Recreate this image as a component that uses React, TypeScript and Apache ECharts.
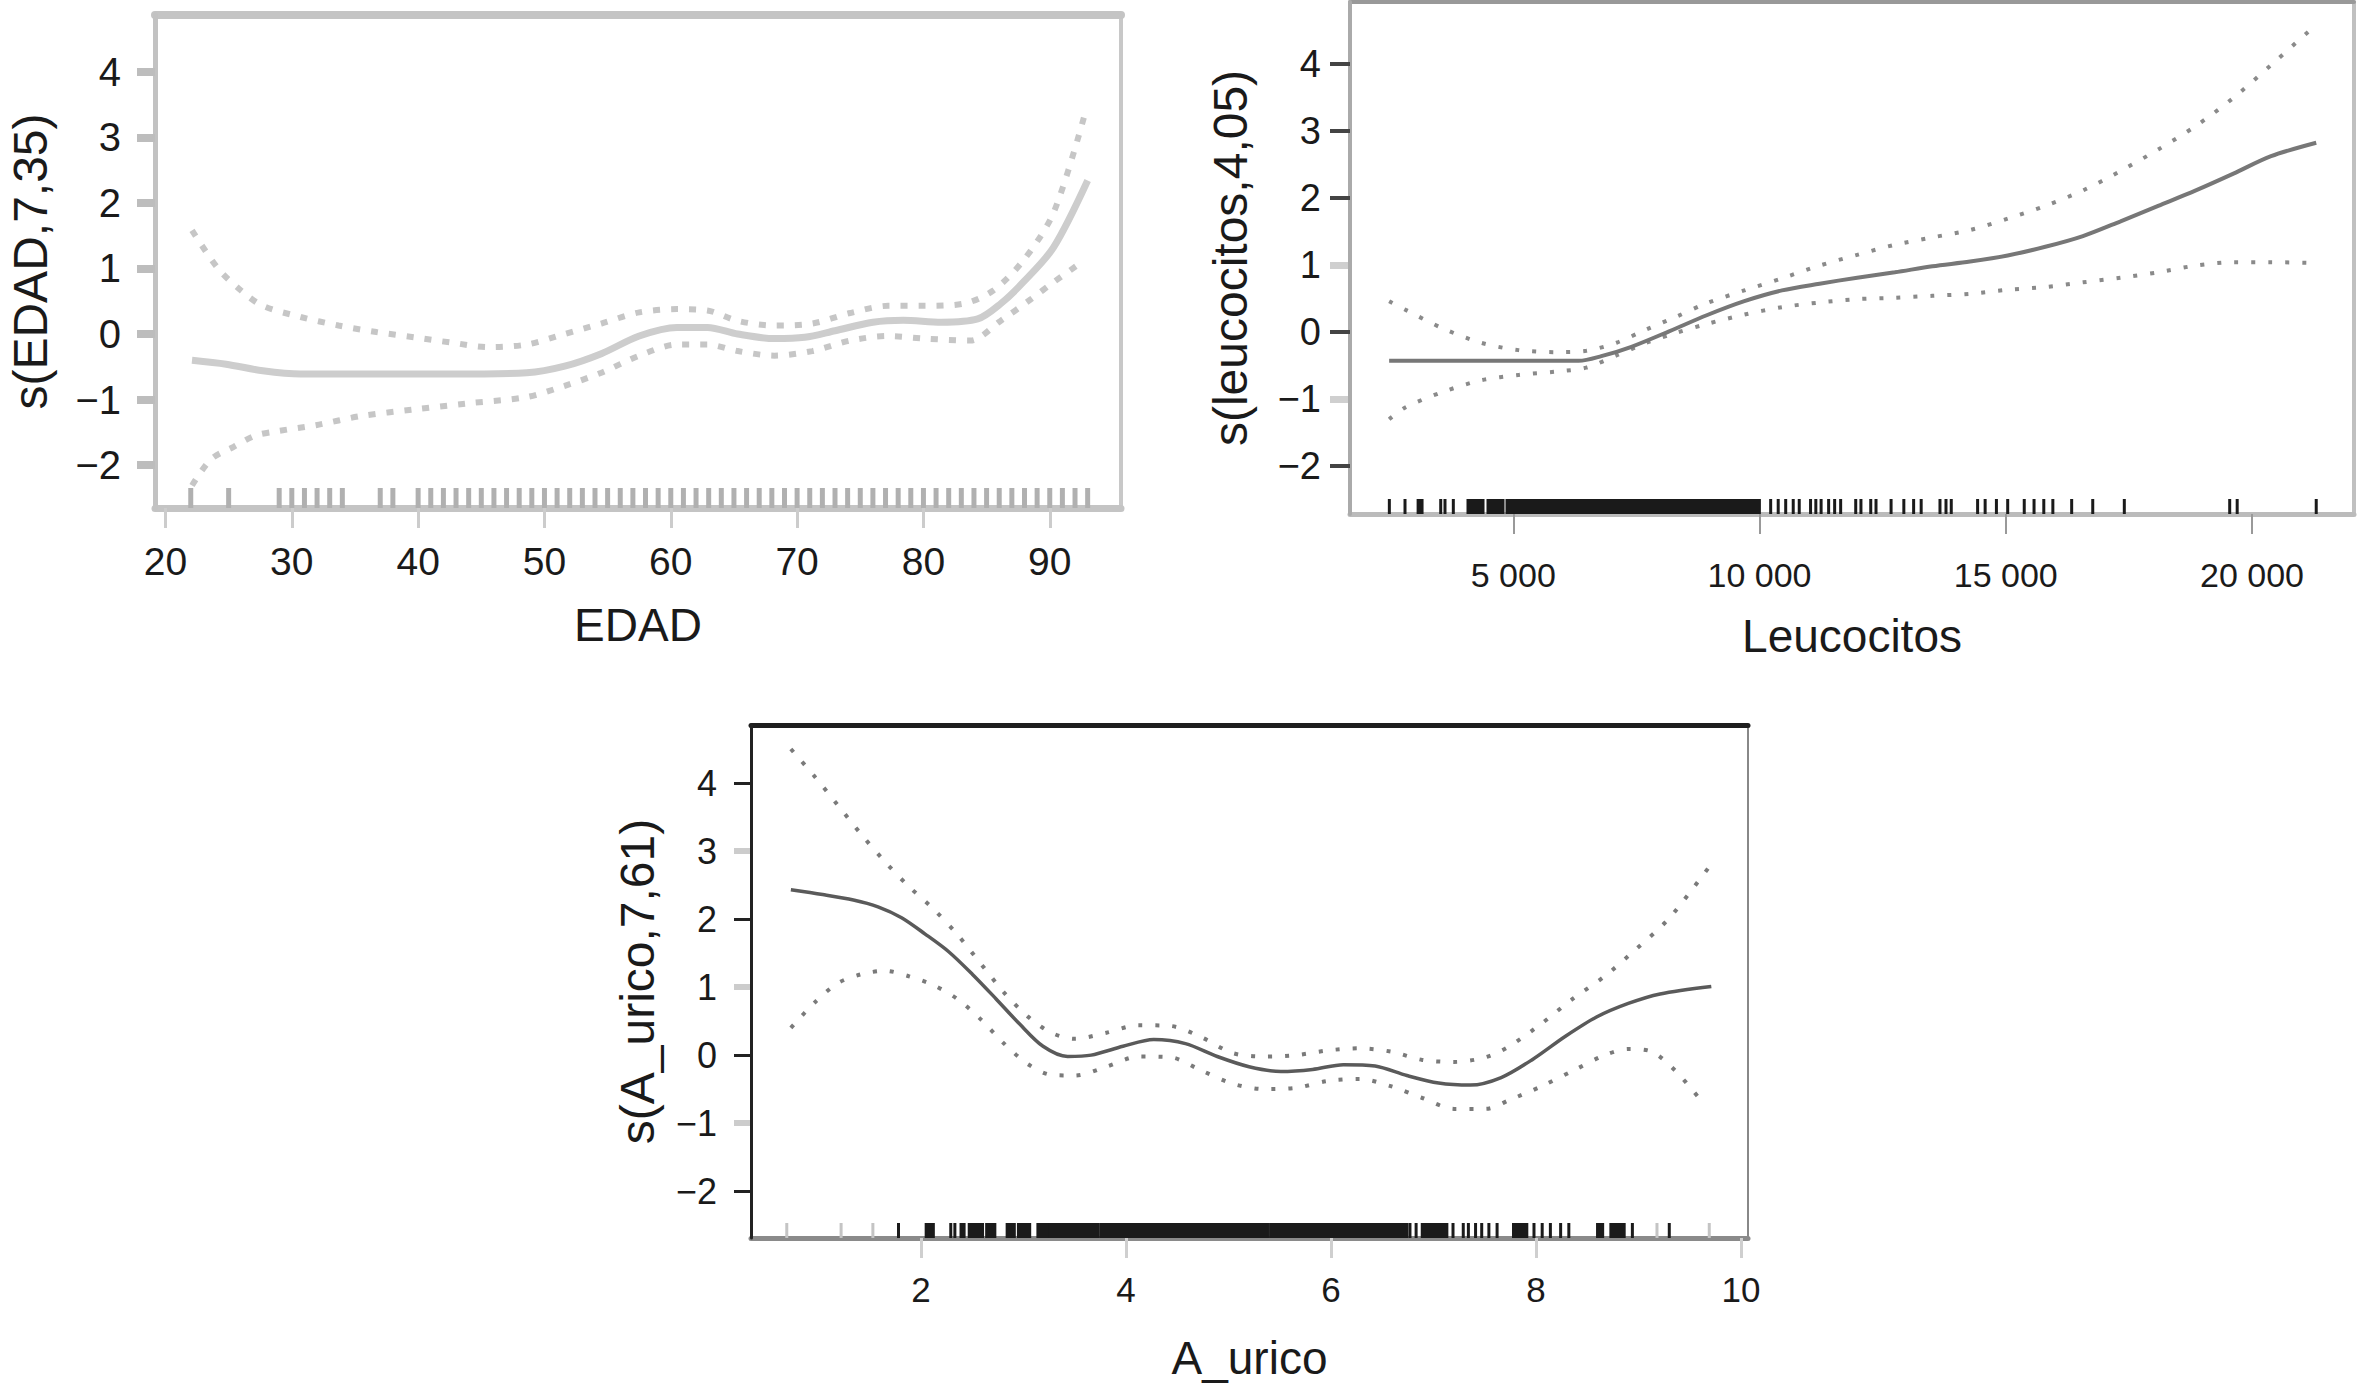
import React, { useEffect, useRef } from "react";
import * as echarts from "echarts";

const W = 2358;
const H = 1385;
const FONT = "'Liberation Sans', Arial, Helvetica, sans-serif";

// ---- tick values ----
const yTicks = [-2, -1, 0, 1, 2, 3, 4];
const yTicksEven = [-2, 0, 2, 4];
const yTicksOdd = [-1, 1, 3];
const leucoDarkTicks = [-2, 0, 2, 3, 4];
const leucoLightTicks = [-1, 1];
const edadTicks = [20, 30, 40, 50, 60, 70, 80, 90];
const leucoTicks = [5000, 10000, 15000, 20000];
const uricoTicks = [2, 4, 6, 8, 10];

// ---- EDAD panel ----
const edadFit = [
  [22.1, -0.4], [24.8, -0.46], [27.7, -0.56], [30.7, -0.61], [36.7, -0.61], [42.6, -0.61],
  [48.6, -0.59], [51.6, -0.49], [54.5, -0.3], [57.5, -0.03], [60.5, 0.1], [62.9, 0.1],
  [65.3, 0.0], [68.2, -0.07], [70.6, -0.05], [73.0, 0.05], [76.0, 0.18], [78.4, 0.21],
  [81.4, 0.18], [84.3, 0.23], [86.1, 0.46], [87.9, 0.79], [90.3, 1.32], [93.0, 2.34],
];
const edadUpper = [
  [22.1, 1.58], [24.2, 0.99], [26.0, 0.66], [27.7, 0.43], [30.7, 0.26], [33.7, 0.13],
  [36.7, 0.03], [39.7, -0.05], [42.6, -0.13], [45.6, -0.2], [48.6, -0.16], [51.6, 0.0],
  [54.5, 0.16], [57.5, 0.33], [60.5, 0.38], [62.9, 0.36], [65.3, 0.2], [68.2, 0.13],
  [71.2, 0.16], [74.2, 0.32], [77.2, 0.43], [80.1, 0.43], [83.1, 0.46], [85.5, 0.66],
  [87.9, 1.12], [90.3, 1.85], [92.7, 3.3],
];
const edadLower = [
  [22.1, -2.31], [23.6, -1.91], [25.4, -1.72], [27.1, -1.55], [28.9, -1.48], [31.9, -1.39],
  [35.5, -1.25], [39.7, -1.15], [43.8, -1.06], [48.6, -0.96], [51.6, -0.79], [54.5, -0.59],
  [57.5, -0.33], [60.5, -0.16], [62.9, -0.16], [65.3, -0.26], [68.2, -0.33], [71.2, -0.26],
  [74.2, -0.1], [77.2, -0.03], [80.1, -0.07], [83.7, -0.1], [86.1, 0.2], [88.5, 0.53],
  [90.3, 0.79], [92.7, 1.12],
];
const edadRug = [
  22, 25, 29, 30, 31, 32, 33, 34, 37, 38, 40, 41, 42, 43, 44, 45, 46, 47, 48, 49, 50, 51, 52,
  53, 54, 55, 56, 57, 58, 59, 60, 61, 62, 63, 64, 65, 66, 67, 68, 69, 70, 71, 72, 73, 74, 75,
  76, 77, 78, 79, 80, 81, 82, 83, 84, 85, 86, 87, 88, 89, 90, 91, 92, 93,
];

// ---- Leucocitos panel ----
const leucoFit = [
  [2479, -0.43], [6329, -0.43], [6788, -0.36], [7399, -0.22], [8163, 0.01], [8927, 0.25],
  [9691, 0.46], [10455, 0.62], [11219, 0.72], [11983, 0.81], [12747, 0.89], [13511, 0.98],
  [14275, 1.05], [15039, 1.14], [15803, 1.27], [16567, 1.43], [17331, 1.65], [18095, 1.88],
  [18859, 2.11], [19623, 2.36], [20387, 2.62], [21304, 2.82],
];
const leucoUpper = [
  [2479, 0.46], [2815, 0.33], [3579, 0.05], [4343, -0.16], [5107, -0.27], [5871, -0.3],
  [6482, -0.28], [7093, -0.16], [7705, 0.04], [8316, 0.23], [8927, 0.43], [9691, 0.62],
  [10455, 0.8], [11219, 0.99], [11983, 1.15], [12747, 1.3], [13511, 1.41], [14275, 1.52],
  [15039, 1.69], [15803, 1.88], [16567, 2.11], [17331, 2.4], [18095, 2.72], [18859, 3.07],
  [19623, 3.49], [20387, 3.98], [21227, 4.53],
];
const leucoLower = [
  [2479, -1.3], [2815, -1.12], [3579, -0.89], [4343, -0.72], [5107, -0.64], [5871, -0.59],
  [6482, -0.53], [7093, -0.35], [7705, -0.16], [8316, -0.01], [8927, 0.12], [9691, 0.26],
  [10455, 0.37], [11219, 0.44], [11983, 0.49], [12747, 0.51], [13511, 0.54], [14275, 0.57],
  [15039, 0.63], [15803, 0.67], [16567, 0.74], [17331, 0.81], [18095, 0.89], [18859, 0.99],
  [19623, 1.04], [20387, 1.04], [21304, 1.03],
];
const leucoRugTicks = [
  2483, 2801, 3526, 3613, 3782, 10226, 10379, 10531, 10684, 10806, 11036, 11143, 11250, 11403,
  11525, 11647, 11953, 12059, 12258, 12365, 12671, 12930, 13129, 13282, 13664, 13786, 13893,
  14428, 14581, 14810, 15039, 15375, 15574, 15772, 15956, 16338, 16766, 17407, 19547, 19699,
  21304,
];
const leucoRugBlocks = [
  [3067, 3147], [4080, 4385], [4486, 4791], [4872, 9997],
];

// ---- A_urico panel ----
const uricoFit = [
  [0.73, 2.43], [1.04, 2.36], [1.34, 2.28], [1.58, 2.18], [1.81, 2.02], [2.04, 1.78],
  [2.27, 1.52], [2.5, 1.19], [2.73, 0.83], [2.96, 0.46], [3.19, 0.13], [3.43, -0.02],
  [3.66, 0.0], [3.97, 0.13], [4.27, 0.23], [4.58, 0.17], [4.89, -0.02], [5.2, -0.17],
  [5.51, -0.24], [5.82, -0.21], [6.12, -0.14], [6.43, -0.16], [6.74, -0.3], [7.05, -0.41],
  [7.36, -0.44], [7.66, -0.33], [7.97, -0.06], [8.28, 0.27], [8.59, 0.56], [8.9, 0.76],
  [9.21, 0.9], [9.71, 1.01],
];
const uricoUpper = [
  [0.73, 4.5], [0.96, 4.1], [1.19, 3.67], [1.42, 3.24], [1.65, 2.84], [1.88, 2.48],
  [2.12, 2.15], [2.35, 1.78], [2.58, 1.35], [2.81, 0.92], [3.04, 0.57], [3.27, 0.33],
  [3.5, 0.24], [3.81, 0.33], [4.12, 0.44], [4.43, 0.43], [4.74, 0.26], [5.04, 0.03],
  [5.35, -0.02], [5.66, 0.0], [5.97, 0.07], [6.28, 0.1], [6.59, 0.05], [6.89, -0.07],
  [7.2, -0.1], [7.51, -0.03], [7.74, 0.13], [8.05, 0.46], [8.36, 0.83], [8.67, 1.16],
  [8.97, 1.55], [9.28, 1.98], [9.51, 2.41], [9.71, 2.81],
];
const uricoLower = [
  [0.73, 0.4], [0.96, 0.77], [1.19, 1.06], [1.42, 1.19], [1.65, 1.24], [1.88, 1.16],
  [2.12, 1.03], [2.35, 0.83], [2.58, 0.53], [2.81, 0.17], [3.04, -0.13], [3.27, -0.29],
  [3.5, -0.3], [3.81, -0.17], [4.12, -0.02], [4.43, -0.03], [4.74, -0.23], [5.04, -0.42],
  [5.35, -0.5], [5.66, -0.48], [5.97, -0.38], [6.28, -0.35], [6.59, -0.46], [6.89, -0.63],
  [7.2, -0.79], [7.51, -0.79], [7.74, -0.66], [8.05, -0.46], [8.36, -0.23], [8.67, 0.0],
  [8.9, 0.09], [9.13, 0.05], [9.36, -0.23], [9.59, -0.63],
];
const uricoRugLight = [0.69, 1.22, 1.53, 9.18, 9.69];
const uricoRugTicks = [
  1.78, 2.29, 2.33, 6.77, 6.83, 7.19, 7.29, 7.34, 7.41, 7.47, 7.54, 7.62, 7.98, 8.06, 8.14,
  8.24, 8.32, 8.94, 9.3,
];
const uricoRugBlocks = [
  [2.05, 2.12], [2.39, 2.42], [2.47, 2.6], [2.64, 2.72], [2.84, 2.91], [2.95, 3.06],
  [3.14, 3.24], [3.26, 3.73], [3.76, 5.38], [5.41, 6.74], [6.89, 7.13], [7.78, 7.91],
  [8.6, 8.65], [8.73, 8.86],
];

const minusFmt = (v: number) => String(v).replace("-", "\u2212");
const thousandsFmt = (v: number) => String(v).replace(/\B(?=(\d{3})+(?!\d))/g, " ");

type TickStyle = { values: number[]; color: string; width: number; length: number };
type PanelCfg = {
  grid: { left: number; top: number; width: number; height: number };
  xMin: number; xMax: number; yMin: number; yMax: number;
  xTicks: number[]; xFmt: (v: number) => string;
  xName: string; yName: string;
  xLabelSize: number; yLabelSize: number; xLabelMargin: number; yLabelMargin: number;
  xNameGap: number; yNameGap: number;
  frame: { left: [string, number]; right: [string, number]; top: [string, number]; bottom: [string, number] };
  yTick: TickStyle;
  yTick2: TickStyle | null;
  xTick: { color: string; width: number; length: number };
  fit: number[][]; upper: number[][]; lower: number[][];
  fitStyle: { color: string; width: number };
  bandStyle: { color: string; width: number; dash: number[] };
  rugs: { data: number[][]; color: string; width: number; height: number }[];
};

function buildPanel(idx: number, c: PanelCfg) {
  const xi = idx * 2;
  const yi = idx * 3;
  const textColor = "#1a1a1a";
  const xAxes = [
    {
      type: "value", gridIndex: idx, position: "bottom", min: c.xMin, max: c.xMax,
      splitLine: { show: false },
      axisLine: { show: true, onZero: false, lineStyle: { color: c.frame.bottom[0], width: c.frame.bottom[1] } },
      axisTick: { show: true, customValues: c.xTicks, length: c.xTick.length, lineStyle: { color: c.xTick.color, width: c.xTick.width } },
      axisLabel: { show: true, customValues: c.xTicks, formatter: c.xFmt, fontSize: c.xLabelSize, fontFamily: FONT, color: textColor, margin: c.xLabelMargin },
      name: c.xName, nameLocation: "middle", nameGap: c.xNameGap,
      nameTextStyle: { fontSize: 46, fontFamily: FONT, color: textColor },
    },
    {
      type: "value", gridIndex: idx, position: "top", min: c.xMin, max: c.xMax,
      splitLine: { show: false },
      axisLine: { show: true, onZero: false, lineStyle: { color: c.frame.top[0], width: c.frame.top[1] } },
      axisTick: { show: false }, axisLabel: { show: false },
    },
  ];
  const yAxes = [
    {
      type: "value", gridIndex: idx, position: "left", min: c.yMin, max: c.yMax,
      splitLine: { show: false },
      axisLine: { show: true, onZero: false, lineStyle: { color: c.frame.left[0], width: c.frame.left[1] } },
      axisTick: { show: true, customValues: c.yTick.values, length: c.yTick.length, lineStyle: { color: c.yTick.color, width: c.yTick.width } },
      axisLabel: { show: true, customValues: yTicks, formatter: minusFmt, fontSize: c.yLabelSize, fontFamily: FONT, color: textColor, margin: c.yLabelMargin },
      name: c.yName, nameLocation: "middle", nameGap: c.yNameGap, nameRotate: 90,
      nameTextStyle: { fontSize: 48, fontFamily: FONT, color: textColor },
      z: 3,
    },
    {
      type: "value", gridIndex: idx, position: "right", min: c.yMin, max: c.yMax,
      splitLine: { show: false },
      axisLine: { show: true, onZero: false, lineStyle: { color: c.frame.right[0], width: c.frame.right[1] } },
      axisTick: { show: false }, axisLabel: { show: false },
    },
    {
      type: "value", gridIndex: idx, position: "left", offset: 0, min: c.yMin, max: c.yMax,
      splitLine: { show: false },
      axisLine: { show: false, onZero: false },
      axisTick: c.yTick2
        ? { show: true, customValues: c.yTick2.values, length: c.yTick2.length, lineStyle: { color: c.yTick2.color, width: c.yTick2.width } }
        : { show: false },
      axisLabel: { show: false },
      z: 1,
    },
  ];
  const series: any[] = [];
  c.rugs.forEach((r) => {
    series.push({
      type: "custom", xAxisIndex: xi, yAxisIndex: yi, silent: true,
      encode: { x: [0, 1] },
      data: r.data,
      renderItem: (params: any, api: any) => {
        const cs = params.coordSys;
        const bottom = cs.y + cs.height;
        const a = api.coord([api.value(0), 0])[0];
        const b = api.coord([api.value(1), 0])[0];
        return {
          type: "rect",
          shape: { x: a - r.width / 2, y: bottom - r.height, width: Math.max(b - a, 0) + r.width, height: r.height },
          style: { fill: r.color },
        };
      },
      z: 3,
    });
  });
  const band = (d: number[][]) => ({
    type: "line", xAxisIndex: xi, yAxisIndex: yi, data: d, showSymbol: false, smooth: 0.3,
    lineStyle: { color: c.bandStyle.color, width: c.bandStyle.width, type: c.bandStyle.dash, cap: "butt" },
    silent: true, z: 4,
  });
  series.push(band(c.upper));
  series.push(band(c.lower));
  series.push({
    type: "line", xAxisIndex: xi, yAxisIndex: yi, data: c.fit, showSymbol: false, smooth: 0.3,
    lineStyle: { color: c.fitStyle.color, width: c.fitStyle.width }, silent: true, z: 5,
  });
  return { grid: { ...c.grid, containLabel: false, show: false }, xAxes, yAxes, series };
}

export default function App() {
  const ref = useRef<HTMLDivElement>(null);
  useEffect(() => {
    if (!ref.current) return;
    const chart = echarts.init(ref.current, undefined, { renderer: "svg", width: W, height: H });

    const p1 = buildPanel(0, {
      grid: { left: 155, top: 15, width: 966, height: 493 },
      xMin: 19.17, xMax: 95.64, yMin: -2.653, yMax: 4.865,
      xTicks: edadTicks, xFmt: (v) => String(v),
      xName: "EDAD", yName: "s(EDAD,7,35)",
      xLabelSize: 39, yLabelSize: 40, xLabelMargin: 34, yLabelMargin: 34,
      xNameGap: 94, yNameGap: 101,
      frame: { left: ["#c2c2c2", 5], right: ["#c8c8c8", 4], top: ["#c4c4c4", 8], bottom: ["#c4c4c4", 7] },
      yTick: { values: yTicks, color: "#bdbdbd", width: 8, length: 18 },
      yTick2: null,
      xTick: { color: "#cccccc", width: 3, length: 20 },
      fit: edadFit, upper: edadUpper, lower: edadLower,
      fitStyle: { color: "#cdcdcd", width: 7 },
      bandStyle: { color: "#c6c6c6", width: 6, dash: [7, 11] },
      rugs: [{ data: edadRug.map((v) => [v, v]), color: "#b0b0b0", width: 5, height: 20 }],
    });
    const p2 = buildPanel(1, {
      grid: { left: 1350, top: 2, width: 1004, height: 512 },
      xMin: 1684, xMax: 22071, yMin: -2.712, yMax: 4.918,
      xTicks: leucoTicks, xFmt: thousandsFmt,
      xName: "Leucocitos", yName: "s(leucocitos,4,05)",
      xLabelSize: 34, yLabelSize: 38, xLabelMargin: 44, yLabelMargin: 29,
      xNameGap: 99, yNameGap: 96,
      frame: { left: ["#aaaaaa", 4], right: ["#c0c0c0", 4], top: ["#999999", 4], bottom: ["#bbbbbb", 5] },
      yTick: { values: leucoDarkTicks, color: "#444444", width: 4, length: 20 },
      yTick2: { values: leucoLightTicks, color: "#cfcfcf", width: 7, length: 20 },
      xTick: { color: "#999999", width: 2, length: 20 },
      fit: leucoFit, upper: leucoUpper, lower: leucoLower,
      fitStyle: { color: "#777777", width: 4 },
      bandStyle: { color: "#8a8a8a", width: 4, dash: [4, 13] },
      rugs: [{ data: [...leucoRugTicks.map((v) => [v, v]), ...leucoRugBlocks], color: "#1a1a1a", width: 3, height: 15 }],
    });
    const p3 = buildPanel(2, {
      grid: { left: 751, top: 725, width: 997, height: 513 },
      xMin: 0.341, xMax: 10.068, yMin: -2.688, yMax: 4.853,
      xTicks: uricoTicks, xFmt: (v) => String(v),
      xName: "A_urico", yName: "s(A_urico,7,61)",
      xLabelSize: 35, yLabelSize: 36, xLabelMargin: 34, yLabelMargin: 34,
      xNameGap: 97, yNameGap: 90,
      frame: { left: ["#222222", 3], right: ["#888888", 2], top: ["#1e1e1e", 5], bottom: ["#8a8a8a", 5] },
      yTick: { values: yTicksEven, color: "#222222", width: 3, length: 17 },
      yTick2: { values: yTicksOdd, color: "#cccccc", width: 6, length: 17 },
      xTick: { color: "#cfcfcf", width: 3, length: 20 },
      fit: uricoFit, upper: uricoUpper, lower: uricoLower,
      fitStyle: { color: "#5a5a5a", width: 3.5 },
      bandStyle: { color: "#7a7a7a", width: 4, dash: [4, 13] },
      rugs: [
        { data: uricoRugLight.map((v) => [v, v]), color: "#c4c4c4", width: 3, height: 15 },
        { data: [...uricoRugTicks.map((v) => [v, v]), ...uricoRugBlocks], color: "#1a1a1a", width: 3, height: 15 },
      ],
    });

    const option: any = {
      animation: false,
      backgroundColor: "#ffffff",
      grid: [p1.grid, p2.grid, p3.grid],
      xAxis: [...p1.xAxes, ...p2.xAxes, ...p3.xAxes],
      yAxis: [...p1.yAxes, ...p2.yAxes, ...p3.yAxes],
      series: [...p1.series, ...p2.series, ...p3.series],
    };
    chart.setOption(option);
    return () => chart.dispose();
  }, []);
  return (
    <div
      ref={ref}
      style={{ position: "absolute", left: 0, top: 0, width: W, height: H, background: "#fff" }}
    />
  );
}
